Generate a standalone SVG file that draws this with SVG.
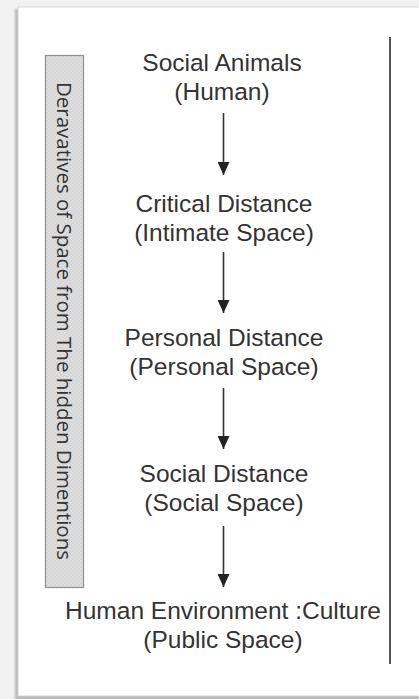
<svg xmlns="http://www.w3.org/2000/svg" width="419" height="699" viewBox="0 0 419 699">
  <style>
    .lbl { font-family: "Liberation Sans", Arial, sans-serif; font-size: 24.5px; fill: #333333; text-anchor: middle; }
    .side { font-family: "Open Sans", "Noto Sans", sans-serif; font-size: 20px; fill: #333333; text-anchor: middle; }
    .flow { stroke: #333333; stroke-width: 1.6; fill: none; }
  </style>
  <defs>
    <!-- solid arrowhead, drawn pointing along +x so orient="auto" follows the line -->
    <marker id="head" markerUnits="userSpaceOnUse" markerWidth="14" markerHeight="12" refX="13" refY="6" orient="auto" viewBox="0 0 14 12">
      <path d="M0,0 L13,6 L0,12 Z" fill="#222222"/>
    </marker>
    <pattern id="dots" width="4" height="4" patternUnits="userSpaceOnUse">
      <rect width="4" height="4" fill="#d6d6d6"/>
      <circle cx="1" cy="1" r="0.8" fill="#e6e6e6"/>
      <circle cx="3" cy="3" r="0.8" fill="#e6e6e6"/>
    </pattern>
    <filter id="soft" x="-5%" y="-5%" width="110%" height="110%">
      <feGaussianBlur stdDeviation="1.2"/>
    </filter>
  </defs>

  <!-- page backdrop and framed panel -->
  <rect x="0" y="0" width="419" height="699" fill="#f2f2f2"/>
  <rect x="15" y="9" width="420" height="691" fill="#b8b8b8" filter="url(#soft)"/>
  <rect x="18" y="7" width="410" height="689" fill="#ffffff" stroke="#d4d4d4" stroke-width="1"/>

  <!-- right-hand rule -->
  <line x1="390" y1="37" x2="390" y2="664" stroke="#555555" stroke-width="2"/>

  <!-- side caption bar -->
  <g id="side-caption">
    <rect x="45.5" y="55.5" width="38" height="532" fill="url(#dots)" stroke="#8f8f8f" stroke-width="1.2"/>
    <text class="side" transform="translate(57 321) rotate(90)" textLength="478" lengthAdjust="spacingAndGlyphs">Deravatives of Space from The hidden Dimentions</text>
  </g>

  <g id="n-social-animals">
    <text class="lbl" x="222" y="71">Social Animals</text>
    <text class="lbl" x="222" y="100">(Human)</text>
  </g>
  <g id="n-critical-distance">
    <text class="lbl" x="224" y="212">Critical Distance</text>
    <text class="lbl" x="224" y="241">(Intimate Space)</text>
  </g>
  <g id="n-personal-distance">
    <text class="lbl" x="224" y="346">Personal Distance</text>
    <text class="lbl" x="224" y="375">(Personal Space)</text>
  </g>
  <g id="n-social-distance">
    <text class="lbl" x="224" y="482">Social Distance</text>
    <text class="lbl" x="224" y="511">(Social Space)</text>
  </g>
  <g id="n-human-environment">
    <text class="lbl" x="223" y="619">Human Environment :Culture</text>
    <text class="lbl" x="223" y="648">(Public Space)</text>
  </g>

  <g id="connectors">
    <line class="flow" x1="223.5" y1="113" x2="223.5" y2="175" marker-end="url(#head)"/>
    <line class="flow" x1="223.5" y1="252" x2="223.5" y2="313" marker-end="url(#head)"/>
    <line class="flow" x1="223.5" y1="388" x2="223.5" y2="449" marker-end="url(#head)"/>
    <line class="flow" x1="223.5" y1="526" x2="223.5" y2="587" marker-end="url(#head)"/>
  </g>
</svg>
